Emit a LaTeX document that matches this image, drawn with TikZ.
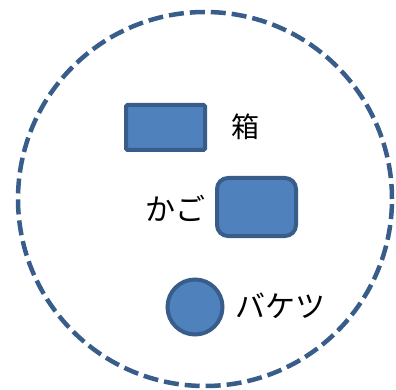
\documentclass[tikz,border=0pt]{standalone}
\usepackage{fontspec}
\newfontfamily\cjk{Noto Sans CJK JP}
\definecolor{fillblue}{HTML}{4F81BD}
\definecolor{edgeblue}{HTML}{385D8A}
\begin{document}
\begin{tikzpicture}[x=1pt,y=-1pt,
  shapebox/.style={draw=edgeblue,fill=fillblue,line width=4pt},
  lbl/.style={font=\cjk\fontsize{30}{32}\selectfont,inner sep=0pt,text=black}]
\useasboundingbox (0,0) rectangle (396,390);
\node[draw=edgeblue,line width=4.5pt,dash pattern=on 15pt off 6pt,circle,minimum size=374pt,inner sep=0pt] (outer) at (205,199) {};
\node[shapebox,rounded corners=1.5pt,minimum width=79pt,minimum height=45pt,inner sep=0pt] (box) at (165.5,127.5) {};
\node[lbl,font=\cjk\fontsize{28}{30}\selectfont] (boxlbl) at (245,127) {箱};
\node[shapebox,rounded corners=11pt,minimum width=79pt,minimum height=58pt,inner sep=0pt] (kago) at (256.5,207) {};
\node[lbl] (kagolbl) at (175,208) {かご};
\node[shapebox,circle,minimum size=55pt,inner sep=0pt] (bucket) at (195,307) {};
\node[lbl,anchor=west] (bucketlbl) at (235,306) {バケツ};
\end{tikzpicture}
\end{document}
